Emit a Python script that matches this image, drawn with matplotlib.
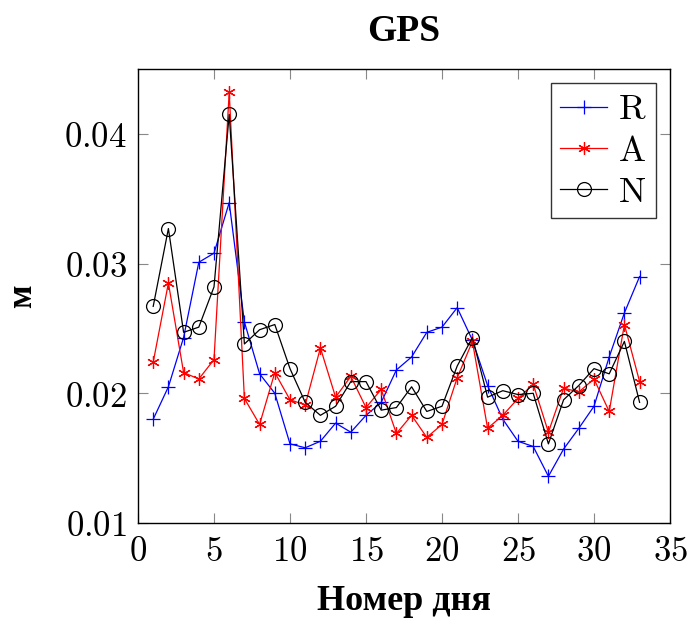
import matplotlib
matplotlib.use("Agg")
import matplotlib.pyplot as plt
from matplotlib.ticker import FixedLocator, FuncFormatter

plt.rcParams['mathtext.fontset'] = 'cm'

days = list(range(1, 34))

r_vals = [0.0180, 0.0205, 0.0243, 0.0301, 0.0308, 0.0347, 0.0255, 0.0215, 0.0200, 0.0161,
          0.0158, 0.0163, 0.0177, 0.0170, 0.0183, 0.0193, 0.0218, 0.0228, 0.0247, 0.0251,
          0.0266, 0.0241, 0.0206, 0.0180, 0.0163, 0.0159, 0.0136, 0.0157, 0.0173, 0.0190,
          0.0228, 0.0262, 0.0290]
a_vals = [0.0224, 0.0285, 0.0216, 0.0211, 0.0226, 0.0432, 0.0196, 0.0176, 0.0216, 0.0195,
          0.0191, 0.0235, 0.0197, 0.0213, 0.0189, 0.0203, 0.0169, 0.0183, 0.0166, 0.0176,
          0.0212, 0.0240, 0.0173, 0.0183, 0.0196, 0.0207, 0.0170, 0.0204, 0.0201, 0.0211,
          0.0186, 0.0253, 0.0209]
n_vals = [0.0267, 0.0327, 0.0247, 0.0251, 0.0282, 0.0415, 0.0238, 0.0249, 0.0253, 0.0219,
          0.0193, 0.0183, 0.0190, 0.0209, 0.0209, 0.0187, 0.0189, 0.0205, 0.0186, 0.0190,
          0.0221, 0.0243, 0.0197, 0.0202, 0.0199, 0.0200, 0.0161, 0.0195, 0.0206, 0.0219,
          0.0215, 0.0240, 0.0193]

x_ticks = [0, 5, 10, 15, 20, 25, 30, 35]
y_ticks = [0.01, 0.02, 0.03, 0.04]

fig = plt.figure(figsize=(6.89, 6.24), dpi=100)
ax = fig.add_axes([138 / 689, 1 - 523 / 624, 532 / 689, 454 / 624])

ax.plot(days, r_vals, color='blue', lw=0.9, marker='+', ms=10, mew=0.9, label=r'$\mathrm{R}$')
ax.plot(days, a_vals, color='red', lw=0.9, marker=(6, 2, 0), ms=9, mew=0.9, label=r'$\mathrm{A}$')
ax.plot(days, n_vals, color='black', lw=0.9, marker='o', ms=10, mew=0.9,
        mfc='none', label=r'$\mathrm{N}$')

ax.set_xlim(0, 35)
ax.set_ylim(0.01, 0.045)
ax.xaxis.set_major_locator(FixedLocator(x_ticks))
ax.yaxis.set_major_locator(FixedLocator(y_ticks))
ax.xaxis.set_major_formatter(FuncFormatter(lambda v, p: r'$%d$' % v))
ax.yaxis.set_major_formatter(FuncFormatter(lambda v, p: r'$%.2f$' % v))
ax.tick_params(direction='in', length=7, width=0.8, color='#888888',
               top=True, right=True, labelsize=25, pad=8)
for s in ax.spines.values():
    s.set_linewidth(1.0)

ax.set_title('GPS', fontsize=27, fontweight='bold', family='Liberation Serif', pad=20)
ax.set_xlabel('Номер дня', fontsize=26, fontweight='bold', family='Liberation Serif', labelpad=12)
ax.set_ylabel('м', fontsize=25, fontweight='bold', family='Liberation Serif', labelpad=18)

leg = ax.legend(loc='upper right', fontsize=26, frameon=True, fancybox=False,
                edgecolor='black', handlelength=1.3, handletextpad=0.3,
                borderpad=0.25, labelspacing=0.2, borderaxespad=0.4)
leg.get_frame().set_linewidth(1.0)

fig.savefig('out.png', dpi=100)
